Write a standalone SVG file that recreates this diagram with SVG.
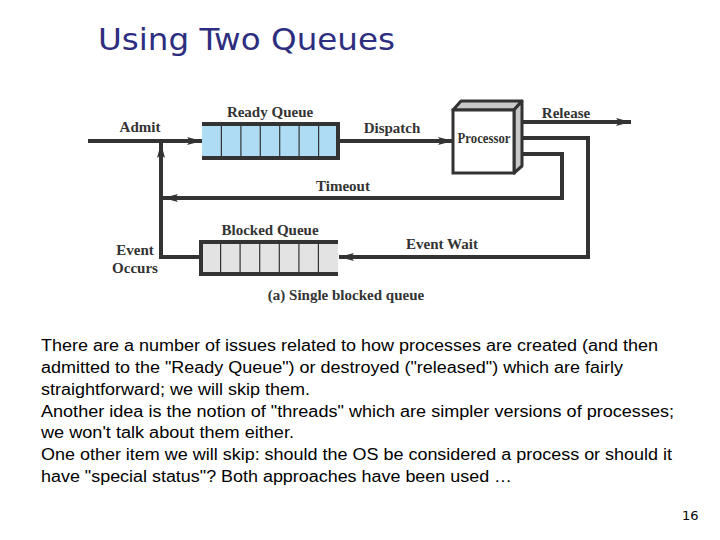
<svg xmlns="http://www.w3.org/2000/svg" width="720" height="540" viewBox="0 0 720 540">
<style>
.lbl{font-family:"Liberation Serif","Times New Roman",serif;font-weight:bold;font-size:15px;fill:#333;text-anchor:middle}
.ln{fill:none;stroke:#333;stroke-width:4}
.qb{stroke:#333;stroke-width:4}
.cell{stroke:#333;stroke-width:1.2}
.body{font-family:"Liberation Sans",Arial,sans-serif;font-size:16px;fill:#000}
</style>
<defs>
<marker id="arr" markerUnits="userSpaceOnUse" markerWidth="16" markerHeight="10" refX="15" refY="5" orient="auto">
<path d="M0,1 L15,5 L0,9 L3,5 Z" fill="#333"/>
</marker>
</defs>
<rect width="720" height="540" fill="#fff"/>
<text x="98" y="50" font-family="DejaVu Sans,Verdana,sans-serif" font-size="31" fill="#2e2e80" textLength="297" lengthAdjust="spacingAndGlyphs">Using Two Queues</text>

<g id="connectors">
<line class="ln" x1="88" y1="141" x2="202" y2="141" marker-end="url(#arr)"/>
<polyline class="ln" points="201,257 161,257 161,143" marker-end="url(#arr)"/>
<line class="ln" x1="338" y1="141" x2="453" y2="141" marker-end="url(#arr)"/>
<line class="ln" x1="522" y1="122" x2="631" y2="122" marker-end="url(#arr)"/>
<polyline class="ln" points="522,138 588,138 588,257 339,257" marker-end="url(#arr)"/>
<polyline class="ln" points="522,154 562,154 562,198 163,198" marker-end="url(#arr)"/>
</g>

<g id="ready-queue">
<rect x="202" y="124" width="136" height="34" fill="#aedcf4"/>
<line class="qb" x1="202" y1="124" x2="338" y2="124"/>
<line class="qb" x1="202" y1="158" x2="338" y2="158"/>
<line class="qb" x1="338" y1="122" x2="338" y2="160"/>
<g class="cell">
<line x1="221.4" y1="124" x2="221.4" y2="158"/><line x1="240.9" y1="124" x2="240.9" y2="158"/>
<line x1="260.3" y1="124" x2="260.3" y2="158"/><line x1="279.7" y1="124" x2="279.7" y2="158"/>
<line x1="299.1" y1="124" x2="299.1" y2="158"/><line x1="318.6" y1="124" x2="318.6" y2="158"/>
</g>
<text class="lbl" x="270" y="117">Ready Queue</text>
</g>

<g id="blocked-queue">
<rect x="201" y="242" width="137" height="32" fill="#e3e3e3"/>
<line class="qb" x1="201" y1="242" x2="338" y2="242"/>
<line class="qb" x1="201" y1="274" x2="338" y2="274"/>
<line class="qb" x1="201" y1="240" x2="201" y2="276"/>
<g class="cell">
<line x1="220.6" y1="242" x2="220.6" y2="274"/><line x1="240.1" y1="242" x2="240.1" y2="274"/>
<line x1="259.7" y1="242" x2="259.7" y2="274"/><line x1="279.3" y1="242" x2="279.3" y2="274"/>
<line x1="298.9" y1="242" x2="298.9" y2="274"/><line x1="318.4" y1="242" x2="318.4" y2="274"/>
</g>
<text class="lbl" x="270" y="235">Blocked Queue</text>
</g>

<g id="processor">
<path d="M453,110 L461,101 L522,101 L514,110 Z" fill="#c8c8c8" stroke="#333" stroke-width="3" stroke-linejoin="round"/>
<path d="M514,110 L522,101 L522,166 L514,173 Z" fill="#c8c8c8" stroke="#333" stroke-width="3" stroke-linejoin="round"/>
<rect x="453" y="110" width="61" height="63" fill="#fff" stroke="#333" stroke-width="3"/>
<text class="lbl" x="484" y="143" font-size="12" textLength="53" lengthAdjust="spacingAndGlyphs">Processor</text>
</g>

<g id="labels">
<text class="lbl" x="140" y="132">Admit</text>
<text class="lbl" x="392" y="133">Dispatch</text>
<text class="lbl" x="566" y="118">Release</text>
<text class="lbl" x="343" y="191">Timeout</text>
<text class="lbl" x="442" y="249">Event Wait</text>
<text class="lbl" x="135" y="255">Event</text>
<text class="lbl" x="135" y="273">Occurs</text>
<text class="lbl" x="346" y="300">(a) Single blocked queue</text>
</g>

<g id="body-text">
<text class="body" x="41" y="351" textLength="617" lengthAdjust="spacingAndGlyphs">There are a number of issues related to how processes are created (and then</text>
<text class="body" x="41" y="372.8" textLength="582" lengthAdjust="spacingAndGlyphs">admitted to the "Ready Queue") or destroyed ("released") which are fairly</text>
<text class="body" x="41" y="394.7" textLength="269" lengthAdjust="spacingAndGlyphs">straightforward; we will skip them.</text>
<text class="body" x="41" y="416.5" textLength="633" lengthAdjust="spacingAndGlyphs">Another idea is the notion of "threads" which are simpler versions of processes;</text>
<text class="body" x="41" y="438.3" textLength="253" lengthAdjust="spacingAndGlyphs">we won't talk about them either.</text>
<text class="body" x="41" y="460.2" textLength="631" lengthAdjust="spacingAndGlyphs">One other item we will skip: should the OS be considered a process or should it</text>
<text class="body" x="41" y="482" textLength="471" lengthAdjust="spacingAndGlyphs">have "special status"? Both approaches have been used …</text>
</g>
<text x="682" y="520" font-family="DejaVu Sans,Tahoma,sans-serif" font-size="13" fill="#000">16</text>
</svg>
